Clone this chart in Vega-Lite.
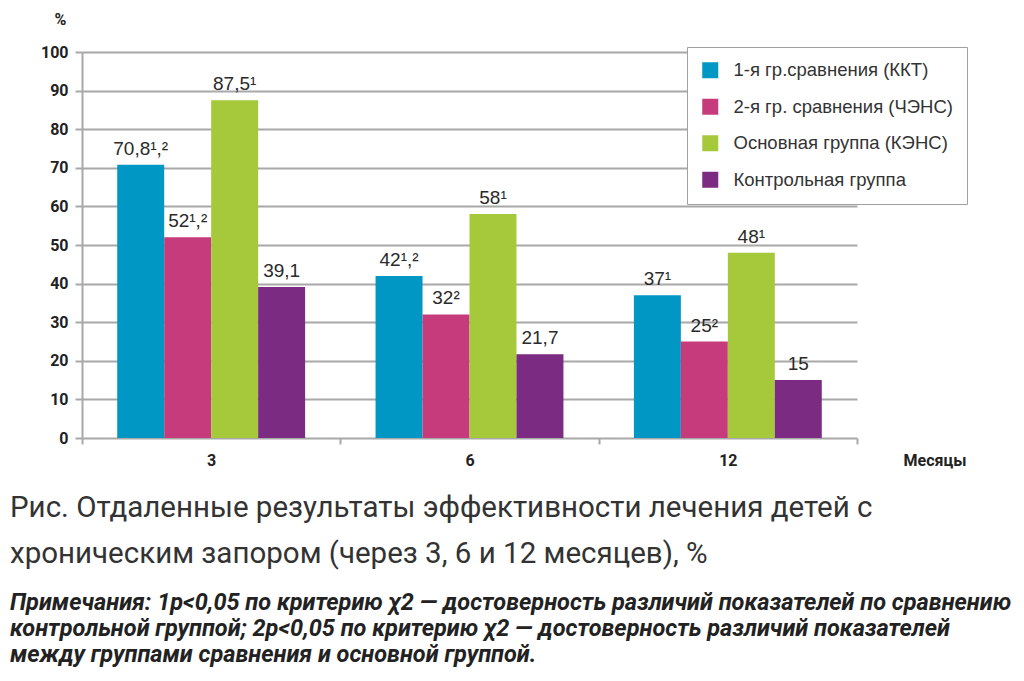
{
  "$schema": "https://vega.github.io/schema/vega-lite/v6.json",
  "width": 893,
  "height": 386,
  "autosize": {"type": "none"},
  "padding": {"left": 82, "top": 52, "right": 49, "bottom": 243},
  "background": "white",
  "config": {"view": {"stroke": null}, "font": "Liberation Sans"},
  "title": {
    "text": ["Рис. Отдаленные результаты эффективности лечения детей с", "хроническим запором (через 3, 6 и 12 месяцев), %"],
    "subtitle": ["Примечания: 1p<0,05 по критерию χ2 — достоверность различий показателей по сравнению", "контрольной группой; 2p<0,05 по критерию χ2 — достоверность различий показателей", "между группами сравнения и основной группой."],
    "orient": "bottom",
    "anchor": "start",
    "frame": "group",
    "dx": -72,
    "offset": 26,
    "font": "Roboto",
    "fontSize": 29.5,
    "fontWeight": "normal",
    "color": "#333333",
    "lineHeight": 46,
    "subtitleFont": "Roboto",
    "subtitleFontSize": 23.5,
    "subtitleFontWeight": "bold",
    "subtitleFontStyle": "italic",
    "subtitleColor": "#222222",
    "subtitleLineHeight": 26,
    "subtitlePadding": 21
  },
  "data": {
    "values": [
      {"month": "3", "group": "1-я гр.сравнения (ККТ)", "value": 70.8, "label": "70,8¹,²"},
      {"month": "3", "group": "2-я гр. сравнения (ЧЭНС)", "value": 52, "label": "52¹,²"},
      {"month": "3", "group": "Основная группа (КЭНС)", "value": 87.5, "label": "87,5¹"},
      {"month": "3", "group": "Контрольная группа", "value": 39.1, "label": "39,1"},
      {"month": "6", "group": "1-я гр.сравнения (ККТ)", "value": 42, "label": "42¹,²"},
      {"month": "6", "group": "2-я гр. сравнения (ЧЭНС)", "value": 32, "label": "32²"},
      {"month": "6", "group": "Основная группа (КЭНС)", "value": 58, "label": "58¹"},
      {"month": "6", "group": "Контрольная группа", "value": 21.7, "label": "21,7"},
      {"month": "12", "group": "1-я гр.сравнения (ККТ)", "value": 37, "label": "37¹"},
      {"month": "12", "group": "2-я гр. сравнения (ЧЭНС)", "value": 25, "label": "25²"},
      {"month": "12", "group": "Основная группа (КЭНС)", "value": 48, "label": "48¹"},
      {"month": "12", "group": "Контрольная группа", "value": 15, "label": "15"}
    ]
  },
  "encoding": {
    "x": {
      "field": "month",
      "type": "nominal",
      "scale": {"domain": ["3", "6", "12"], "range": [0, 775], "paddingInner": 0, "paddingOuter": 0},
      "axis": {
        "title": "Месяцы",
        "titleX": 884,
        "titleY": 22,
        "titleAlign": "right",
        "titleBaseline": "middle",
        "titleFont": "Roboto",
        "titleFontSize": 16,
        "titleFontWeight": "bold",
        "titleColor": "#222222",
        "domain": false,
        "grid": false,
        "tickBand": "extent",
        "tickColor": "#a8a8a8",
        "tickWidth": 2,
        "tickSize": 6,
        "labelAngle": 0,
        "labelFont": "Roboto",
        "labelFontWeight": "bold",
        "labelFontSize": 16,
        "labelColor": "#222222",
        "labelPadding": 8
      }
    },
    "xOffset": {
      "field": "group",
      "type": "nominal",
      "sort": ["1-я гр.сравнения (ККТ)", "2-я гр. сравнения (ЧЭНС)", "Основная группа (КЭНС)", "Контрольная группа"],
      "scale": {"paddingInner": 0, "paddingOuter": 0.75}
    },
    "y": {
      "field": "value",
      "type": "quantitative",
      "scale": {"domain": [0, 100]},
      "axis": {
        "values": [0, 10, 20, 30, 40, 50, 60, 70, 80, 90, 100],
        "title": "%",
        "titleAngle": 0,
        "titleX": -22,
        "titleY": -33,
        "titleAlign": "center",
        "titleBaseline": "middle",
        "titleFont": "Roboto",
        "titleFontSize": 16,
        "titleFontWeight": "bold",
        "titleColor": "#222222",
        "grid": true,
        "gridColor": "#a8a8a8",
        "gridWidth": 2,
        "domainColor": "#a8a8a8",
        "domainWidth": 2,
        "tickColor": "#a8a8a8",
        "tickWidth": 2,
        "tickSize": 7,
        "labelFont": "Roboto",
        "labelFontWeight": "bold",
        "labelFontSize": 16,
        "labelColor": "#222222",
        "labelPadding": 7
      }
    }
  },
  "layer": [
    {
      "mark": {"type": "bar"},
      "encoding": {
        "color": {
          "field": "group",
          "type": "nominal",
          "scale": {
            "domain": ["1-я гр.сравнения (ККТ)", "2-я гр. сравнения (ЧЭНС)", "Основная группа (КЭНС)", "Контрольная группа"],
            "range": ["#0097c4", "#c63b7b", "#a5c93b", "#7b2b81"]
          },
          "legend": {
            "orient": "none",
            "legendX": 605,
            "legendY": -5,
            "title": null,
            "strokeColor": "#a0a0a0",
            "fillColor": "white",
            "padding": 14,
            "symbolType": "square",
            "symbolSize": 256,
            "symbolStrokeWidth": 0,
            "symbolOpacity": 1,
            "labelFont": "Liberation Sans",
            "labelFontSize": 18.5,
            "labelColor": "#333333",
            "labelOffset": 14,
            "labelLimit": 400,
            "rowPadding": 17.5
          }
        }
      }
    },
    {
      "mark": {"type": "text", "baseline": "bottom", "dy": -6, "fontSize": 19, "color": "#2a2a2a", "font": "Liberation Sans"},
      "encoding": {"text": {"field": "label"}}
    }
  ]
}
